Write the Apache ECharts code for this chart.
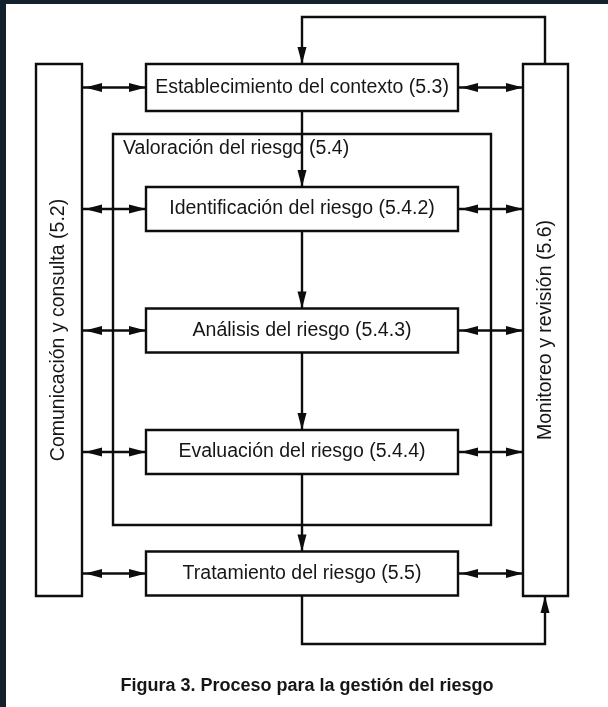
<!DOCTYPE html>
<html><head><meta charset="utf-8">
<script src="https://cdn.jsdelivr.net/npm/echarts@6/dist/echarts.min.js"></script>
<style>
html,body{margin:0;padding:0;background:#13212c;width:608px;height:707px;overflow:hidden}
#c{position:absolute;left:6px;top:4px;width:602px;height:703px;background:#ffffff}
</style></head><body><div id="c"></div>
<script>
// ---- content ----
const steps = [
  'Establecimiento del contexto (5.3)',
  'Identificación del riesgo (5.4.2)',
  'Análisis del riesgo (5.4.3)',
  'Evaluación del riesgo (5.4.4)',
  'Tratamiento del riesgo (5.5)'
];
const sideLabels = ['Comunicación y consulta (5.2)', 'Monitoreo y revisión (5.6)'];
const groupLabels = ['Valoración del riesgo (5.4)'];
const captionText = 'Figura 3. Proceso para la gestión del riesgo';

// ---- layout (page pixel units) ----
const L = {
  boxX: [146, 458], spineX: 302,
  stepCenter0: 87.5, stepGap: 121.5, stepHalf: 22, firstHalf: 23.5,
  cols: [[36, 82], [523, 568]], colY: [64, 596],
  frame: [113, 134, 491, 525], frameLabel: [123, 149],
  loopTopY: 17, loopX: 545, loopBottomY: 644,
  arrowLen: 17, arrowHalf: 4.5
};
const INK = '#0d0d0d', TEXT = '#161616', LW = 2.4;
const FONT = '19.5px "Liberation Sans", Arial, sans-serif';

function stepCY(i){ return L.stepCenter0 + i * L.stepGap; }
function stepHalf(i){ return i === 0 ? L.firstHalf : L.stepHalf; }
function P(api, p){ return api.coord(p); }
function poly(api, pts){
  return {type:'polyline', shape:{points: pts.map(p => P(api,p))}, style:{stroke:INK, lineWidth:LW, fill:null}};
}
function head(api, tip, dir){
  const a = L.arrowLen, w = L.arrowHalf, x = tip[0], y = tip[1];
  let pts;
  if (dir === 'l') pts = [[x,y],[x+a,y-w],[x+a,y+w]];
  else if (dir === 'r') pts = [[x,y],[x-a,y-w],[x-a,y+w]];
  else if (dir === 'd') pts = [[x,y],[x-w,y-a],[x+w,y-a]];
  else pts = [[x,y],[x-w,y+a],[x+w,y+a]];
  return {type:'polygon', shape:{points: pts.map(p => P(api,p))}, style:{fill:INK}};
}
function rectEl(api, x1, y1, x2, y2, fill){
  const a = P(api,[x1,y1]), b = P(api,[x2,y2]);
  return {type:'rect', shape:{x:a[0], y:a[1], width:b[0]-a[0], height:b[1]-a[1]},
          style:{fill: fill, stroke:INK, lineWidth:LW}};
}

const chart = echarts.init(document.getElementById('c'), null, {renderer:'canvas'});
chart.setOption({
  animation: false,
  title: {
    text: captionText, left: 296, top: 668, textAlign: 'center',
    textStyle: {fontFamily: '"Liberation Sans", Arial, sans-serif', fontWeight: 'bold', fontSize: 18, color: TEXT}
  },
  grid: {left: 0, right: 0, top: 0, bottom: 0},
  xAxis: {type: 'value', min: 6, max: 608, show: false},
  yAxis: {type: 'value', min: 4, max: 707, inverse: true, show: false},
  series: [
    { // group frame "Valoración del riesgo"
      type: 'custom', z: 1,
      data: groupLabels.map((s, i) => [i]),
      renderItem: function(params, api){
        const f = L.frame, t = P(api, L.frameLabel);
        return {type:'group', children:[
          rectEl(api, f[0], f[1], f[2], f[3], null),
          {type:'text', x:t[0], y:t[1], style:{text: groupLabels[params.dataIndex], font: FONT, fill: TEXT, align:'left', verticalAlign:'middle'}}
        ]};
      }
    },
    { // side columns
      type: 'custom', z: 2,
      data: sideLabels.map((s, i) => [i]),
      renderItem: function(params, api){
        const c = L.cols[params.dataIndex];
        const m = P(api, [(c[0]+c[1])/2, (L.colY[0]+L.colY[1])/2]);
        return {type:'group', children:[
          rectEl(api, c[0], L.colY[0], c[1], L.colY[1], '#ffffff'),
          {type:'text', x:m[0], y:m[1], rotation: Math.PI/2,
           style:{text: sideLabels[params.dataIndex], font: FONT, fill: TEXT, align:'center', verticalAlign:'middle'}}
        ]};
      }
    },
    { // process steps with links to the side columns
      type: 'custom', z: 3,
      data: steps.map((s, i) => [i]),
      renderItem: function(params, api){
        const i = params.dataIndex, cy = stepCY(i), h = stepHalf(i);
        const bx = L.boxX, lc = L.cols[0], rc = L.cols[1];
        const m = P(api, [L.spineX, cy]);
        const kids = [
          poly(api, [[lc[1], cy], [bx[0], cy]]),
          head(api, [lc[1] + 3, cy], 'l'),
          head(api, [bx[0], cy], 'r'),
          poly(api, [[bx[1], cy], [rc[0], cy]]),
          head(api, [bx[1] + 3, cy], 'l'),
          head(api, [rc[0], cy], 'r'),
          rectEl(api, bx[0], cy - h, bx[1], cy + h, '#ffffff'),
          {type:'text', x:m[0], y:m[1], style:{text: steps[i], font: FONT, fill: TEXT, align:'center', verticalAlign:'middle'}}
        ];
        if (i > 0) {
          const prevBottom = stepCY(i-1) + stepHalf(i-1);
          kids.unshift(poly(api, [[L.spineX, prevBottom], [L.spineX, cy - h]]));
          kids.push(head(api, [L.spineX, cy - h], 'd'));
        }
        return {type:'group', children: kids};
      }
    },
    { // feedback loops
      type: 'custom', z: 4,
      data: [[0]],
      renderItem: function(params, api){
        const top0 = stepCY(0) - stepHalf(0);
        const last = steps.length - 1;
        const botN = stepCY(last) + stepHalf(last);
        return {type:'group', children:[
          poly(api, [[L.loopX, L.colY[0]], [L.loopX, L.loopTopY], [L.spineX, L.loopTopY], [L.spineX, top0]]),
          head(api, [L.spineX, top0], 'd'),
          poly(api, [[L.spineX, botN], [L.spineX, L.loopBottomY], [L.loopX, L.loopBottomY], [L.loopX, L.colY[1]]]),
          head(api, [L.loopX, L.colY[1]], 'u')
        ]};
      }
    }
  ]
});
</script></body></html>
